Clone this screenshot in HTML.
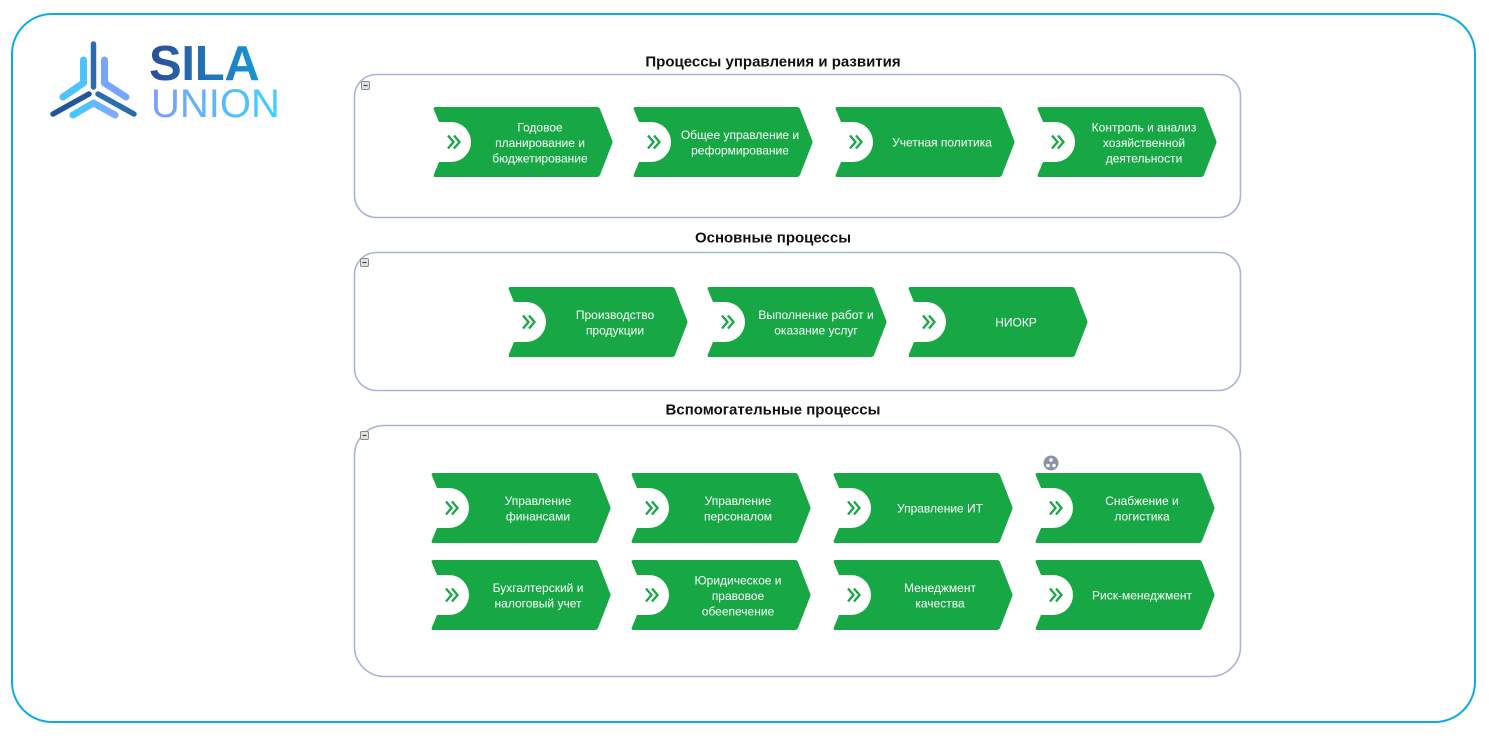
<!DOCTYPE html>
<html><head><meta charset="utf-8">
<style>
html,body{margin:0;padding:0;background:#fff;}
svg{display:block;}
text{font-family:"Liberation Sans",Arial,sans-serif;}
.t{fill:#fff;font-size:12px;text-anchor:middle;}
.h{fill:#111;font-size:15px;font-weight:bold;text-anchor:middle;}
</style></head>
<body>
<svg width="1489" height="739" viewBox="0 0 1489 739" xmlns="http://www.w3.org/2000/svg">
<defs>
  <linearGradient id="gSila" x1="0" y1="0" x2="1" y2="0">
    <stop offset="0" stop-color="#2c4c96"/>
    <stop offset="1" stop-color="#1896d6"/>
  </linearGradient>
  <linearGradient id="gUnion" x1="0" y1="0" x2="1" y2="0">
    <stop offset="0" stop-color="#7d9cff"/>
    <stop offset="1" stop-color="#3dd2ff"/>
  </linearGradient>
  <linearGradient id="gBot" x1="0" y1="0" x2="1" y2="0">
    <stop offset="0" stop-color="#3fcaff"/>
    <stop offset="1" stop-color="#86a8ff"/>
  </linearGradient>
  <g id="proc">
    <path d="M2.5,0 H164 Q166,0 167,2 L179,33 Q180,35 179,37 L167,68 Q166,70 164,70 H2.5 Q0,70 0.8,67.5 L6,55 H18 A20,20 0 0 0 18,15 H6 L0.8,2.5 Q0,0 2.5,0 Z" fill="#17a845"/>
    <path d="M15,28.5 L20.5,35 L15,41.5 M21,28.5 L26.5,35 L21,41.5" fill="none" stroke="#17a845" stroke-width="2.3" stroke-linejoin="miter"/>
  </g>
  <g id="minus">
    <rect x="0.5" y="0.5" width="8" height="8" rx="1.5" fill="#e2e2e2" stroke="#8a8a8a" stroke-width="1"/>
    <line x1="2.5" y1="4.5" x2="6.5" y2="4.5" stroke="#444" stroke-width="1.2"/>
  </g>
</defs>

<!-- outer frame -->
<rect x="12" y="14" width="1463" height="708" rx="40" ry="40" fill="#fff" stroke="#0aabe8" stroke-width="2"/>

<!-- logo icon -->
<g stroke-linecap="round" fill="none">
  <polyline points="83.5,60 83.5,83 63,97" stroke="#4cc2ff" stroke-width="7" stroke-linejoin="round"/>
  <polyline points="104.5,60 104.5,83 126,97" stroke="#78a6ff" stroke-width="7" stroke-linejoin="round"/>
  <polyline points="73,115 93.5,103 115,115" stroke="url(#gBot)" stroke-width="7" stroke-linejoin="round"/>
  <line x1="93.5" y1="44" x2="93.5" y2="87" stroke="#2a6cb0" stroke-width="5.5"/>
  <line x1="89" y1="94" x2="53" y2="114" stroke="#23559c" stroke-width="5.5"/>
  <line x1="98" y1="94" x2="134" y2="114" stroke="#2b6eac" stroke-width="5.5"/>
</g>
<text x="149" y="80" font-size="49" font-weight="bold" fill="url(#gSila)" letter-spacing="-0.3">SILA</text>
<text x="151" y="117" font-size="40" fill="url(#gUnion)">UNION</text>

<!-- section titles -->
<text class="h" x="773" y="66.5">Процессы управления и развития</text>
<text class="h" x="773" y="242.5">Основные процессы</text>
<text class="h" x="773" y="414.5">Вспомогательные процессы</text>

<!-- boxes -->
<rect x="354.5" y="74.5" width="886" height="143" rx="22" fill="none" stroke="#aab4da" stroke-width="1.6"/>
<rect x="354.5" y="252.5" width="886" height="138" rx="22" fill="none" stroke="#aab4da" stroke-width="1.6"/>
<rect x="354.5" y="425.5" width="886" height="251" rx="30" fill="none" stroke="#aab4da" stroke-width="1.6"/>

<use href="#minus" x="361" y="81"/>
<use href="#minus" x="360" y="258"/>
<use href="#minus" x="360" y="431"/>

<!-- Row 1 -->
<g transform="translate(433,107)"><use href="#proc"/>
  <text class="t" x="107"><tspan x="107" y="24.5">Годовое</tspan><tspan x="107" y="40">планирование и</tspan><tspan x="107" y="55.5">бюджетирование</tspan></text></g>
<g transform="translate(633,107)"><use href="#proc"/>
  <text class="t" x="107"><tspan x="107" y="32">Общее управление и</tspan><tspan x="107" y="47.5">реформирование</tspan></text></g>
<g transform="translate(835,107)"><use href="#proc"/>
  <text class="t" x="107" y="39.5">Учетная политика</text></g>
<g transform="translate(1037,107)"><use href="#proc"/>
  <text class="t" x="107"><tspan x="107" y="24.5">Контроль и анализ</tspan><tspan x="107" y="40">хозяйственной</tspan><tspan x="107" y="55.5">деятельности</tspan></text></g>

<!-- Row 2 -->
<g transform="translate(508,287)"><use href="#proc"/>
  <text class="t" x="107"><tspan x="107" y="32">Производство</tspan><tspan x="107" y="47.5">продукции</tspan></text></g>
<g transform="translate(707,287)"><use href="#proc"/>
  <text class="t" x="107"><tspan x="109" y="32">Выполнение работ и</tspan><tspan x="109" y="47.5">оказание услуг</tspan></text></g>
<g transform="translate(908,287)"><use href="#proc"/>
  <text class="t" x="108" y="39.5">НИОКР</text></g>

<!-- Row 3a -->
<g transform="translate(431,473)"><use href="#proc"/>
  <text class="t" x="107"><tspan x="107" y="32">Управление</tspan><tspan x="107" y="47.5">финансами</tspan></text></g>
<g transform="translate(631,473)"><use href="#proc"/>
  <text class="t" x="107"><tspan x="107" y="32">Управление</tspan><tspan x="107" y="47.5">персоналом</tspan></text></g>
<g transform="translate(833,473)"><use href="#proc"/>
  <text class="t" x="107" y="39.5">Управление ИТ</text></g>
<g transform="translate(1035,473)"><use href="#proc"/>
  <text class="t" x="107"><tspan x="107" y="32">Снабжение и</tspan><tspan x="107" y="47.5">логистика</tspan></text></g>

<!-- Row 3b -->
<g transform="translate(431,560)"><use href="#proc"/>
  <text class="t" x="107"><tspan x="107" y="32">Бухгалтерский и</tspan><tspan x="107" y="47.5">налоговый учет</tspan></text></g>
<g transform="translate(631,560)"><use href="#proc"/>
  <text class="t" x="107"><tspan x="107" y="24.5">Юридическое и</tspan><tspan x="107" y="40">правовое</tspan><tspan x="107" y="55.5">обеепечение</tspan></text></g>
<g transform="translate(833,560)"><use href="#proc"/>
  <text class="t" x="107"><tspan x="107" y="32">Менеджмент</tspan><tspan x="107" y="47.5">качества</tspan></text></g>
<g transform="translate(1035,560)"><use href="#proc"/>
  <text class="t" x="107" y="39.5">Риск-менеджмент</text></g>

<!-- share icon -->
<circle cx="1051" cy="463" r="7.5" fill="#8a93a2"/>
<circle cx="1051" cy="460" r="1.8" fill="#fff"/>
<circle cx="1048" cy="465.5" r="1.8" fill="#fff"/>
<circle cx="1054" cy="465.5" r="1.8" fill="#fff"/>
</svg>
</body></html>
